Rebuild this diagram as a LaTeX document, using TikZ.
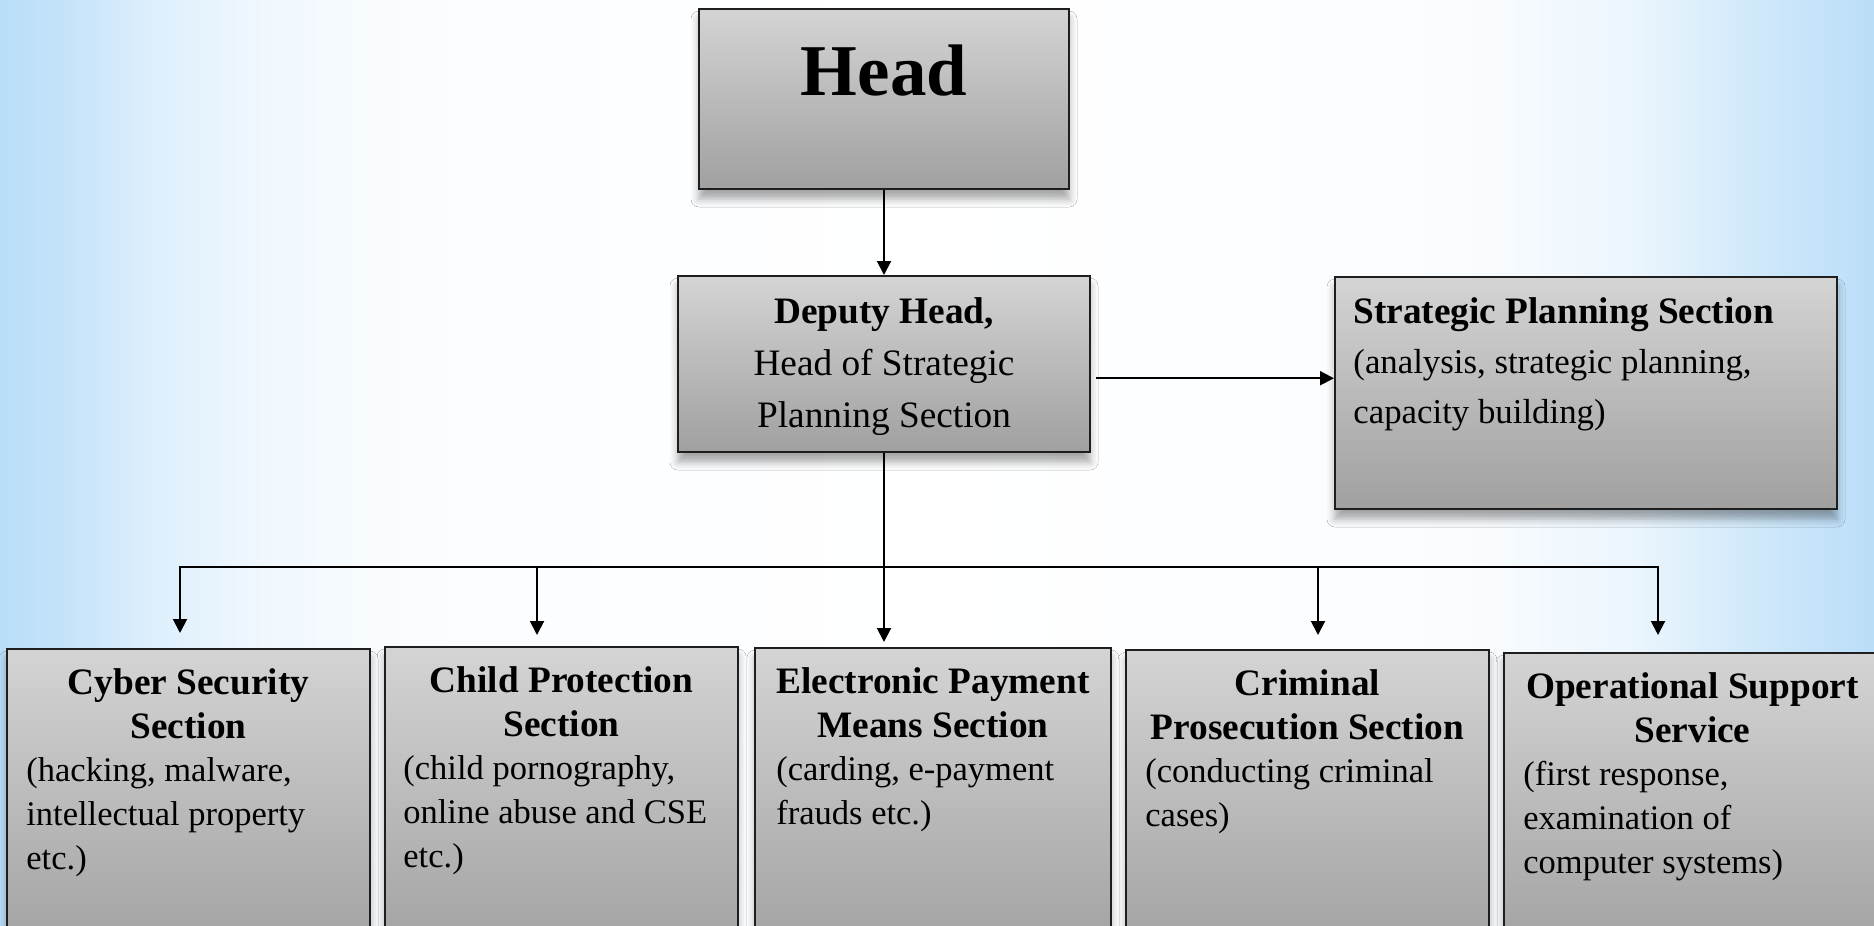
\documentclass[tikz,border=0pt]{standalone}
\usepackage{fontspec}
\setmainfont{Liberation Serif}
\usetikzlibrary{arrows.meta,shadows.blur,calc}
\definecolor{bgblue}{RGB}{186,222,248}
\definecolor{boxtop}{RGB}{212,212,212}
\definecolor{boxbot}{RGB}{160,160,160}
\definecolor{edgecol}{RGB}{30,30,30}
\pgfdeclarehorizontalshading{bgh}{100bp}{color(0bp)=(bgblue); color(25bp)=(bgblue); color(26.5bp)=(bgblue!88!white); color(29bp)=(bgblue!50!white); color(32bp)=(bgblue!22!white); color(36bp)=(bgblue!7!white); color(50bp)=(white); color(64bp)=(bgblue!7!white); color(68.5bp)=(bgblue!28!white); color(72bp)=(bgblue!70!white); color(75bp)=(bgblue); color(100bp)=(bgblue)}
\begin{document}
\begin{tikzpicture}[x=0.5pt,y=-0.5pt,
  box/.style={draw=edgecol, line width=1pt, top color=boxtop, bottom color=boxbot, rectangle, inner sep=0, anchor=north west,
    blur shadow={shadow xshift=0pt, shadow yshift=-5pt, shadow blur radius=4pt, shadow opacity=35}},
  arr/.style={draw=black, line width=1pt, -{Triangle[length=7pt,width=7pt]}},
  ttl/.style={inner sep=0, anchor=north, align=center, font=\fontsize{18.65}{22}\selectfont\bfseries},
  bdy/.style={inner sep=0, anchor=north west, align=left, font=\fontsize{17.25}{22}\selectfont},
]
\useasboundingbox (0,0) rectangle (1874,926);
\clip (0,0) rectangle (1874,926);
\shade[shading=bgh] (0,0) rectangle (1874,926);

% boxes
\node[box, minimum width=185pt, minimum height=90pt] (head) at (698,8) {};
\node[box, minimum width=206pt, minimum height=88pt] (deputy) at (677,275) {};
\node[box, minimum width=251pt, minimum height=116pt] (strategic) at (1334,276) {};
\node[box, minimum width=181.5pt, minimum height=156pt] (cyber) at (6,648) {};
\node[box, minimum width=176.5pt, minimum height=157pt] (child) at (384,646) {};
\node[box, minimum width=178pt, minimum height=156.5pt] (elec) at (754,647) {};
\node[box, minimum width=181.5pt, minimum height=155.5pt] (crim) at (1125,649) {};
\node[box, minimum width=188.5pt, minimum height=154pt] (oper) at (1503,652) {};

% texts
\node[anchor=base, inner sep=0, font=\fontsize{36.5}{44}\selectfont\bfseries] (headt) at ($(head.north)+(0,87)$) {Head};
\node[inner sep=0, anchor=north, align=center, font=\fontsize{18.65}{26}\selectfont] (deputyt) at ($(deputy.north)+(0,12)$)
  {\strut\textbf{Deputy Head,}\\Head of Strategic\\Planning Section};
\node[inner sep=0, anchor=north west, align=left, font=\fontsize{17.4}{25}\selectfont] (strategict) at ($(strategic.north west)+(19,12)$)
  {\strut{\fontsize{18.65}{25}\selectfont\bfseries Strategic Planning Section}\\(analysis, strategic planning,\\capacity building)};

\node[ttl] (cybert) at ($(cyber.north)+(0,15)$) {\strut Cyber Security\\Section};
\node[bdy] (cyberb) at ($(cyber.north west)+(20,102)$) {\strut(hacking, malware,\\intellectual property\\etc.)};
\node[ttl] (childt) at ($(child.north)+(0,15)$) {\strut Child Protection\\Section};
\node[bdy] (childb) at ($(child.north west)+(19,102)$) {\strut(child pornography,\\online abuse and CSE\\etc.)};
\node[ttl] (elect) at ($(elec.north)+(0,15)$) {\strut Electronic Payment\\Means Section};
\node[bdy] (elecb) at ($(elec.north west)+(22,102)$) {\strut(carding, e-payment\\frauds etc.)};
\node[ttl] (crimt) at ($(crim.north)+(0,15)$) {\strut Criminal\\Prosecution Section};
\node[bdy] (crimb) at ($(crim.north west)+(20,102)$) {\strut(conducting criminal\\cases)};
\node[ttl] (opert) at ($(oper.north)+(0,15)$) {\strut Operational Support\\Service};
\node[bdy] (operb) at ($(oper.north west)+(20,102)$) {\strut(first response,\\examination of\\computer systems)};

% connectors
\draw[arr] (head.south) -- (deputy.north);
\coordinate (dsp) at ($(deputy.north east)!0.58!(deputy.south east)+(5,0)$);
\draw[arr] (dsp) -- (dsp -| strategic.west);
\coordinate (bus) at ($(deputy.south)+(0,114)$);
\coordinate (tcyber) at ($(cyber.north)+(-8.5,-15)$);
\coordinate (tchild) at ($(child.north)+(-24.5,-11)$);
\coordinate (telec) at ($(deputy.south |- elec.north)+(0,-5)$);
\coordinate (tcrim) at ($(crim.north)+(10.5,-14)$);
\coordinate (toper) at ($(oper.north)+(-34.5,-17)$);
\draw[arr] (deputy.south) -- (telec);
\draw[arr] (bus) -| (tcyber);
\draw[arr] (bus) -| (toper);
\draw[arr] (tchild |- bus) -- (tchild);
\draw[arr] (tcrim |- bus) -- (tcrim);
\end{tikzpicture}
\end{document}
